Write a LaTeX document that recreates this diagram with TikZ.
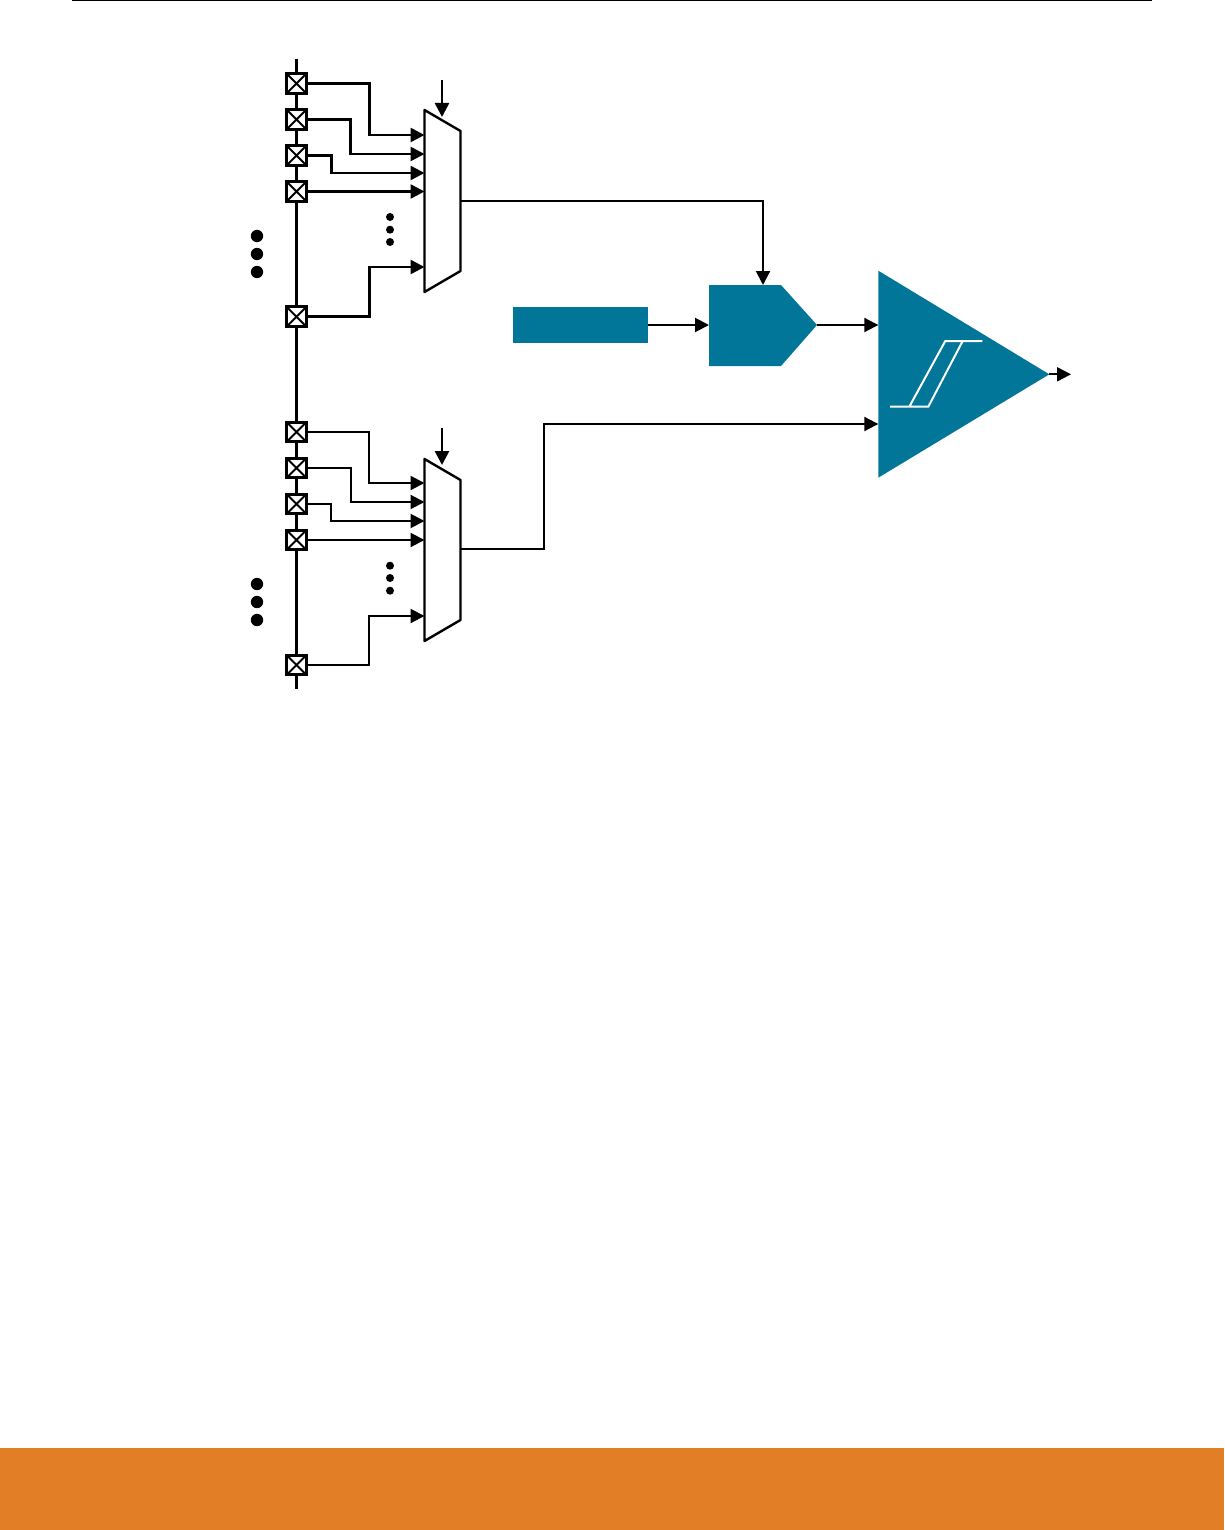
\documentclass[tikz,border=0pt]{standalone}
\usepackage{tikz}
\usetikzlibrary{arrows.meta,positioning,calc}
\definecolor{tealblock}{HTML}{017699}
\definecolor{bandorange}{HTML}{E17E26}
\tikzset{
  padbox/.style={draw,fill=white,line width=3pt,minimum size=19.5pt,inner sep=0pt,
    path picture={\draw[line width=2pt] (path picture bounding box.south west) -- (path picture bounding box.north east)
      (path picture bounding box.north west) -- (path picture bounding box.south east);}},
  wirein/.style={line width=2.6pt,-{Triangle[length=14pt,width=14pt]}},
  wirelow/.style={line width=2.1pt,-{Triangle[length=14pt,width=14pt]}},
  wireout/.style={line width=2pt,-{Triangle[length=14pt,width=14pt]}},
  muxbody/.style={draw,fill=white,line width=2.4pt,line join=round},
  refblock/.style={fill=tealblock,minimum width=135pt,minimum height=36pt,inner sep=0pt},
}
\begin{document}
\begin{tikzpicture}[x=1pt,y=-1pt]
  \useasboundingbox (0,0) rectangle (1224,1530);
  \fill[bandorange] (0,1448) rectangle (1224,1530);
  \draw[line width=1.6pt] (72,0.5) -- (1152,0.5);
  % pad rail
  \coordinate (railtop) at (296.5,59); \coordinate (railbot) at (296.5,689);
  \draw[line width=3pt] (railtop) -- (railbot);
  \foreach \n/\y in {1/83.5,2/119.5,3/155.5,4/191.5,5/316.7,6/432,7/468,8/504,9/540,10/665}
    \node[padbox] (pad\n) at (296.5,\y) {};
  % the two muxes
  \draw[muxbody] (424.5,110) -- (460.5,131) -- (460.5,271) -- (424.5,292) -- cycle;
  \draw[muxbody] (424.5,459) -- (460.5,480) -- (460.5,620) -- (424.5,641) -- cycle;
  \foreach \m/\y in {a/135,b/154,c/173,d/191.5,e/267,f/483,g/502,h/521,i/540,j/616}
    \coordinate (in\m) at (424.5,\y);
  \coordinate (muxAout) at (461,201); \coordinate (muxBout) at (461,549);
  % mux inputs
  \foreach \n/\m/\dx in {1/a/61.5,2/b/43,3/c/23.5,5/e/61.5}
    \draw[wirein] (pad\n.east) -- ++(\dx,0) |- (in\m);
  \foreach \n/\m/\dx in {6/f/61.5,7/g/43,8/h/23.5,10/j/61.5}
    \draw[wirelow] (pad\n.east) -- ++(\dx,0) |- (in\m);
  \draw[wirein] (pad4.east) -- (ind);
  \draw[wirelow] (pad9.east) -- (ini);
  % select lines
  \coordinate (selA) at (442,80); \coordinate (selAend) at (442,117);
  \coordinate (selB) at (442,428); \coordinate (selBend) at (442,465);
  \draw[wirein] (selA) -- (selAend);
  \draw[wirein] (selB) -- (selBend);
  % dots
  \foreach \y in {217,229.7,242,565.7,578,590.7} \fill (390,\y) circle (4);
  \foreach \y in {236,254,272,584,602,620} \fill (257,\y) circle (6.2);
  % blocks
  \node[refblock] (refsrc) at (580.5,325) {};
  \fill[tealblock] (709,285) -- (781,285) -- (817,325) -- (781,366) -- (709,366) -- cycle;
  \fill[tealblock] (878.3,270.7) -- (1049.3,374.3) -- (878.3,477.7) -- cycle;
  \coordinate (dacin) at (709,325); \coordinate (dactop) at (763,285); \coordinate (dacout) at (817,325);
  \coordinate (cmpplus) at (878.3,325); \coordinate (cmpminus) at (878.3,424);
  \coordinate (cmpout) at (1049.3,374.3); \coordinate (cmpend) at (1071,374.3);
  \draw[white,line width=2pt,line join=round] (890,406.7) -- (928.3,406.7) -- (962.7,341)
    (909.3,406.7) -- (945.3,341) -- (982.3,341);
  % connections
  \draw[wireout] (muxAout) -| (dactop);
  \draw[wireout] (refsrc.east) -- (dacin);
  \draw[wireout] (dacout) -- (cmpplus);
  \draw[wireout] (muxBout) -- ++(83,0) |- (cmpminus);
  \draw[wireout] (cmpout) -- (cmpend);
\end{tikzpicture}
\end{document}
